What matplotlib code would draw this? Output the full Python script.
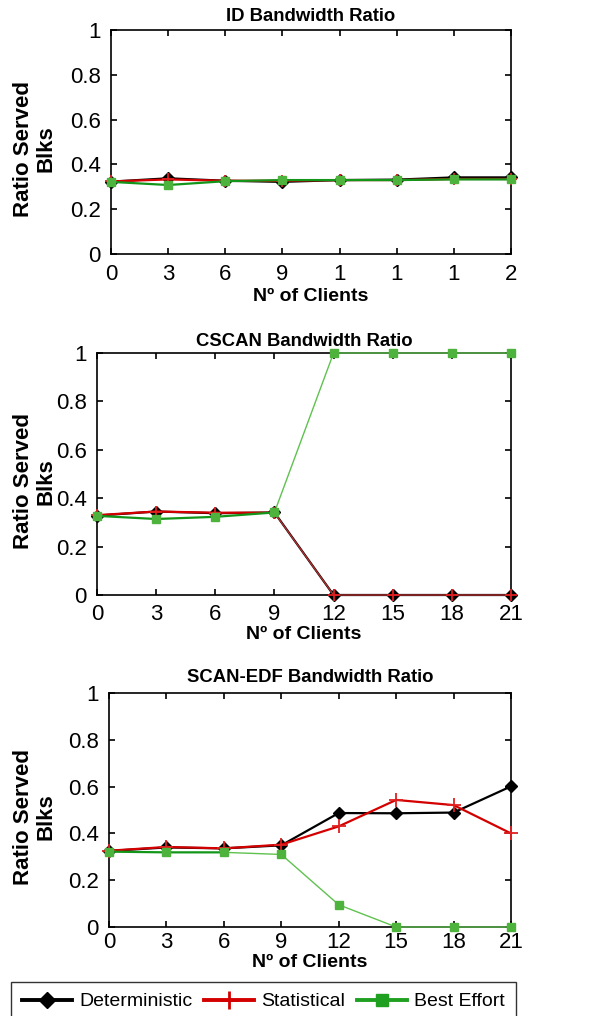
import numpy as np
import matplotlib
matplotlib.use("Agg")
import matplotlib.pyplot as plt
from matplotlib.lines import Line2D

plt.rcParams['font.family'] = ['Liberation Sans', 'DejaVu Sans']

# data
clients = [0, 3, 6, 9, 12, 15, 18, 21]
id_ticklabels = ['0', '3', '6', '9', '1', '1', '1', '2']
full_ticklabels = ['0', '3', '6', '9', '12', '15', '18', '21']

titles = ['ID Bandwidth Ratio', 'CSCAN Bandwidth Ratio', 'SCAN-EDF Bandwidth Ratio']

id_det = [0.323, 0.338, 0.327, 0.322, 0.330, 0.332, 0.342, 0.342]
id_stat = [0.324, 0.333, 0.327, 0.327, 0.330, 0.330, 0.335, 0.335]
id_best = [0.322, 0.308, 0.325, 0.330, 0.330, 0.330, 0.333, 0.333]

cscan_det = [0.328, 0.345, 0.338, 0.341, 0.0, 0.0, 0.0, 0.0]
cscan_stat = [0.330, 0.345, 0.340, 0.340, 0.0, 0.0, 0.0, 0.0]
cscan_best = [0.327, 0.314, 0.323, 0.341, 1.0, 1.0, 1.0, 1.0]

edf_det = [0.325, 0.340, 0.336, 0.349, 0.487, 0.486, 0.489, 0.601]
edf_stat = [0.326, 0.342, 0.336, 0.352, 0.430, 0.543, 0.521, 0.400]
edf_best = [0.322, 0.319, 0.319, 0.310, 0.095, 0.0, 0.0, 0.0]

panels = [
    (id_det, id_stat, id_best, id_ticklabels),
    (cscan_det, cscan_stat, cscan_best, full_ticklabels),
    (edf_det, edf_stat, edf_best, full_ticklabels),
]

# axes boxes in pixels: left, top, right, bottom
W, H = 609, 1016
boxes = [(111, 30, 511, 254), (97, 353, 511, 595), (109, 693, 511, 927)]
# per panel spacing (pt): title pad, x tick pad, x label pad
pads = [(6.5, 7.0, 2.5), (5.0, 6.5, 0.5), (8.0, 3.5, 0.5)]

BLACK = '#000000'
RED = '#d40000'
RED_THIN = '#b03030'
GREEN = '#12961a'
GREEN_LIGHT = '#5fc24f'
GREEN_MK = '#4db33d'

fig = plt.figure(figsize=(W / 100, H / 100), dpi=100)

for i, (det, stat, best, tl) in enumerate(panels):
    l, t, r, b = boxes[i]
    tpad, xpad, xlpad = pads[i]
    ax = fig.add_axes([l / W, 1 - b / H, (r - l) / W, (b - t) / H])
    x = np.array(clients)
    det = np.array(det)
    stat = np.array(stat)
    best = np.array(best)

    ax.plot(x, det, color=BLACK, lw=1.6, marker='D', ms=6.5,
            mfc=BLACK, mec=BLACK, clip_on=False, zorder=3)

    if i == 1:
        # steep part of the red / green curves looks thin in the original
        ax.plot(x[3:], stat[3:], color=RED_THIN, lw=1.0, clip_on=False, zorder=4)
        ax.plot(x[:4], stat[:4], color=RED, lw=1.6, clip_on=False, zorder=4)
        ax.plot(x, stat, ls='none', marker='+', ms=9, mew=1.3, color='#e02020',
                clip_on=False, zorder=4)
        ax.plot(x[3:], best[3:], color=GREEN_LIGHT, lw=1.0, clip_on=False, zorder=5)
        ax.plot(x[:4], best[:4], color=GREEN, lw=1.6, clip_on=False, zorder=5)
    elif i == 2:
        ax.plot(x, stat, color=RED, lw=1.6, marker='+', ms=10, mew=1.3,
                mec='#e02020', clip_on=False, zorder=4)
        ax.plot(x[2:], best[2:], color=GREEN_LIGHT, lw=1.0, clip_on=False, zorder=5)
        ax.plot(x[:3], best[:3], color=GREEN, lw=1.6, clip_on=False, zorder=5)
    else:
        ax.plot(x, stat, color=RED, lw=1.6, marker='+', ms=9, mew=1.3,
                mec='#e02020', clip_on=False, zorder=4)
        ax.plot(x, best, color=GREEN, lw=1.6, clip_on=False, zorder=5)
    ax.plot(x, best, ls='none', marker='s', ms=6, mfc=GREEN_MK, mec=GREEN_MK,
            clip_on=False, zorder=6)

    ax.set_xlim(0, 21)
    ax.set_ylim(0, 1)
    ax.set_xticks(clients)
    ax.set_xticklabels(tl)
    ax.set_yticks([0, 0.2, 0.4, 0.6, 0.8, 1])
    ax.set_yticklabels(['0', '0.2', '0.4', '0.6', '0.8', '1'])
    ax.tick_params(direction='in', top=True, right=True, length=4.5, width=1.2,
                   labelsize=16, pad=7.5, colors='black')
    ax.tick_params(axis='x', pad=xpad)
    for s in ax.spines.values():
        s.set_linewidth(1.2)

    ax.set_title(titles[i], fontsize=13.3, fontweight='bold', pad=tpad)
    ax.set_xlabel('Nº of Clients', fontsize=14, fontweight='bold', labelpad=xlpad)
    ax.set_ylabel('Ratio Served\nBlks', fontsize=16, fontweight='bold',
                  va='center', linespacing=1.1)
    ax.yaxis.set_label_coords((35 - l) / (r - l), 0.47)

handles = [
    Line2D([], [], color=BLACK, lw=2.8, marker='D', ms=8, mfc=BLACK, mec=BLACK),
    Line2D([], [], color=RED, lw=2.8, marker='+', ms=13, mew=2, mec=RED),
    Line2D([], [], color='#20a020', lw=2.8, marker='s', ms=8, mfc='#20a020', mec='#20a020'),
]
leg = fig.legend(handles, ['Deterministic', 'Statistical', 'Best Effort'],
                 loc='upper left', bbox_to_anchor=(11 / W, 1 - 982 / H),
                 ncol=3, fontsize=14, frameon=True, fancybox=False,
                 edgecolor='black', handlelength=2.6, handletextpad=0.35,
                 columnspacing=0.6, borderpad=0.55, borderaxespad=0)
leg.get_frame().set_linewidth(1.0)

fig.savefig('out.png', dpi=100)
